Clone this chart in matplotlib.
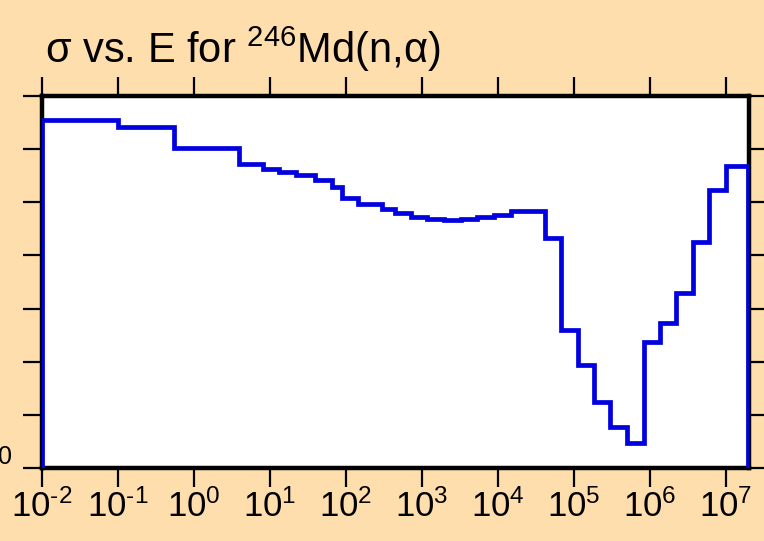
import math
import matplotlib
matplotlib.use("Agg")
import matplotlib.pyplot as plt
from matplotlib.ticker import LogLocator, FuncFormatter, NullLocator, MultipleLocator, NullFormatter

plt.rcParams["font.family"] = ["Liberation Sans", "DejaVu Sans"]
plt.rcParams["mathtext.fontset"] = "custom"
plt.rcParams["mathtext.rm"] = "Liberation Sans"
plt.rcParams["mathtext.it"] = "Liberation Sans"
plt.rcParams["mathtext.bf"] = "Liberation Sans:bold"
plt.rcParams["axes.unicode_minus"] = False

# Group boundaries (eV) and group-averaged cross sections
energy_edges = [1e-2, 1e-1, 0.55, 3.95, 8.2, 13.3, 22, 39.5, 66, 90, 146, 302, 448,
                728, 1183, 1983, 3320, 5400, 9040, 15100, 41200, 67000, 112000,
                182000, 296000, 496000, 830000, 1.35e6, 2.19e6, 3.67e6, 5.97e6,
                1e7, 1.964e7]
sigma = [6.54, 6.42, 6.03, 5.72, 5.62, 5.57, 5.52, 5.42, 5.28, 5.09, 4.97, 4.87,
         4.80, 4.73, 4.69, 4.67, 4.69, 4.72, 4.76, 4.84, 4.32, 2.60, 1.93, 1.25,
         0.78, 0.47, 2.37, 2.72, 3.29, 4.26, 5.23, 5.68]

x_range = (1e-2, 2.0e7)
y_range = (0, 7)


def decade_label(v, pos):
    e = int(round(math.log10(v)))
    if e < 0:
        return r"10$^{\text{-}%d}$" % (-e)
    return r"10$^{%d}$" % e


bg = "#FFDEAD"
W, H = 764, 541
fig = plt.figure(figsize=(W / 100, H / 100), dpi=100, facecolor=bg)
ax = fig.add_axes([42 / W, 1 - 468 / H, (748.6 - 42) / W, (468 - 96) / H])
ax.set_facecolor("white")

ax.stairs(sigma, energy_edges, baseline=0, color="#0000e0", linewidth=3.4, zorder=3)

ax.set_xscale("log")
ax.set_xlim(*x_range)
ax.set_ylim(*y_range)

ax.xaxis.set_major_locator(LogLocator(base=10, numticks=20))
ax.xaxis.set_minor_locator(NullLocator())
ax.xaxis.set_major_formatter(FuncFormatter(decade_label))
ax.yaxis.set_major_locator(MultipleLocator(1))
ax.yaxis.set_major_formatter(NullFormatter())

ax.tick_params(axis="both", which="major", direction="out", length=14, width=1.6,
               color="black", top=True, right=True, labelsize=25, pad=1,
               labelcolor="black")
ax.tick_params(axis="x", which="major", labeltop=False)

for s in ax.spines.values():
    s.set_linewidth(3.2)
    s.set_color("black")

fig.text(12 / W, 1 - 457 / H, "0", ha="right", va="center", fontsize=18)

fig.text(45 / W, 1 - 63 / H, r"σ vs. E for ${}^{246}$Md(n,α)", ha="left",
         va="baseline", fontsize=30)

fig.savefig("out.png", dpi=100, facecolor=bg)
